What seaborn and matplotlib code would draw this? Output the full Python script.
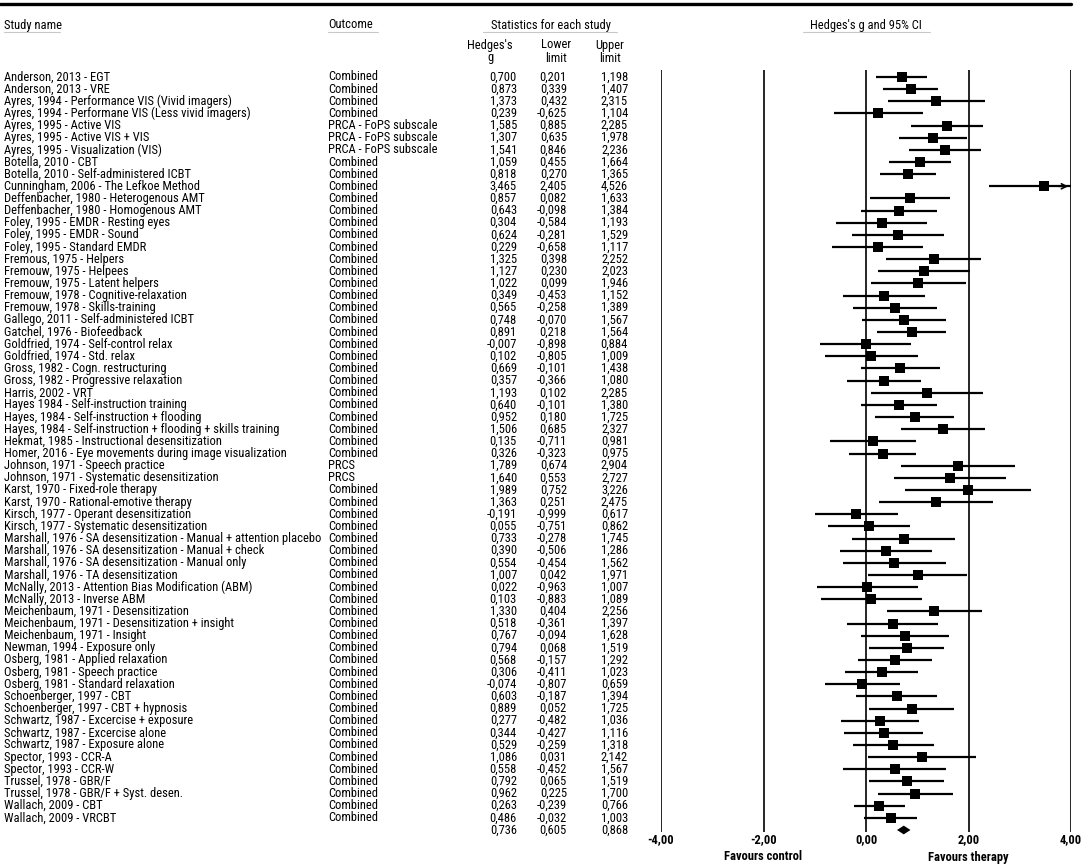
import seaborn as sns
import matplotlib.pyplot as plt
import matplotlib.transforms as mtransforms
from matplotlib import font_manager
from matplotlib.lines import Line2D
import pandas as pd

studies = [
    "Anderson, 2013 - EGT",
    "Anderson, 2013 - VRE",
    "Ayres, 1994 - Performance VIS (Vivid imagers)",
    "Ayres, 1994 - Performane VIS (Less vivid imagers)",
    "Ayres, 1995 - Active VIS",
    "Ayres, 1995 - Active VIS + VIS",
    "Ayres, 1995 - Visualization (VIS)",
    "Botella, 2010 - CBT",
    "Botella, 2010 - Self-administered ICBT",
    "Cunningham, 2006 - The Lefkoe Method",
    "Deffenbacher, 1980 - Heterogenous AMT",
    "Deffenbacher, 1980 - Homogenous AMT",
    "Foley, 1995 - EMDR - Resting eyes",
    "Foley, 1995 - EMDR - Sound",
    "Foley, 1995 - Standard EMDR",
    "Fremous, 1975 - Helpers",
    "Fremouw, 1975 - Helpees",
    "Fremouw, 1975 - Latent helpers",
    "Fremouw, 1978 - Cognitive-relaxation",
    "Fremouw, 1978 - Skills-training",
    "Gallego, 2011 - Self-administered ICBT",
    "Gatchel, 1976 - Biofeedback",
    "Goldfried, 1974 - Self-control relax",
    "Goldfried, 1974 - Std. relax",
    "Gross, 1982 - Cogn. restructuring",
    "Gross, 1982 - Progressive relaxation",
    "Harris, 2002 - VRT",
    "Hayes 1984 - Self-instruction training",
    "Hayes, 1984 - Self-instruction + flooding",
    "Hayes, 1984 - Self-instruction + flooding + skills training",
    "Hekmat, 1985 - Instructional desensitization",
    "Homer, 2016 - Eye movements during image visualization",
    "Johnson, 1971 - Speech practice",
    "Johnson, 1971 - Systematic desensitization",
    "Karst, 1970 - Fixed-role therapy",
    "Karst, 1970 - Rational-emotive therapy",
    "Kirsch, 1977 - Operant desensitization",
    "Kirsch, 1977 - Systematic desensitization",
    "Marshall, 1976 - SA desensitization - Manual + attention placebo",
    "Marshall, 1976 - SA desensitization - Manual + check",
    "Marshall, 1976 - SA desensitization - Manual only",
    "Marshall, 1976 - TA desensitization",
    "McNally, 2013 - Attention Bias Modification (ABM)",
    "McNally, 2013 - Inverse ABM",
    "Meichenbaum, 1971 - Desensitization",
    "Meichenbaum, 1971 - Desensitization + insight",
    "Meichenbaum, 1971 - Insight",
    "Newman, 1994 - Exposure only",
    "Osberg, 1981 - Applied relaxation",
    "Osberg, 1981 - Speech practice",
    "Osberg, 1981 - Standard relaxation",
    "Schoenberger, 1997 - CBT",
    "Schoenberger, 1997 - CBT + hypnosis",
    "Schwartz, 1987 - Excercise + exposure",
    "Schwartz, 1987 - Excercise alone",
    "Schwartz, 1987 - Exposure alone",
    "Spector, 1993 - CCR-A",
    "Spector, 1993 - CCR-W",
    "Trussel, 1978 - GBR/F",
    "Trussel, 1978 - GBR/F + Syst. desen.",
    "Wallach, 2009 - CBT",
    "Wallach, 2009 - VRCBT",
]

outcomes = (["Combined"] * 4 + ["PRCA - FoPS subscale"] * 3 + ["Combined"] * 25
            + ["PRCS"] * 2 + ["Combined"] * 28)

hedges_g = [0.700, 0.873, 1.373, 0.239, 1.585, 1.307, 1.541, 1.059, 0.818, 3.465,
            0.857, 0.643, 0.304, 0.624, 0.229, 1.325, 1.127, 1.022, 0.349, 0.565,
            0.748, 0.891, -0.007, 0.102, 0.669, 0.357, 1.193, 0.640, 0.952, 1.506,
            0.135, 0.326, 1.789, 1.640, 1.989, 1.363, -0.191, 0.055, 0.733, 0.390,
            0.554, 1.007, 0.022, 0.103, 1.330, 0.518, 0.767, 0.794, 0.568, 0.306,
            -0.074, 0.603, 0.889, 0.277, 0.344, 0.529, 1.086, 0.558, 0.792, 0.962,
            0.263, 0.486]

lower_limit = [0.201, 0.339, 0.432, -0.625, 0.885, 0.635, 0.846, 0.455, 0.270, 2.405,
               0.082, -0.098, -0.584, -0.281, -0.658, 0.398, 0.230, 0.099, -0.453, -0.258,
               -0.070, 0.218, -0.898, -0.805, -0.101, -0.366, 0.102, -0.101, 0.180, 0.685,
               -0.711, -0.323, 0.674, 0.553, 0.752, 0.251, -0.999, -0.751, -0.278, -0.506,
               -0.454, 0.042, -0.963, -0.883, 0.404, -0.361, -0.094, 0.068, -0.157, -0.411,
               -0.807, -0.187, 0.052, -0.482, -0.427, -0.259, 0.031, -0.452, 0.065, 0.225,
               -0.239, -0.032]

upper_limit = [1.198, 1.407, 2.315, 1.104, 2.285, 1.978, 2.236, 1.664, 1.365, 4.526,
               1.633, 1.384, 1.193, 1.529, 1.117, 2.252, 2.023, 1.946, 1.152, 1.389,
               1.567, 1.564, 0.884, 1.009, 1.438, 1.080, 2.285, 1.380, 1.725, 2.327,
               0.981, 0.975, 2.904, 2.727, 3.226, 2.475, 0.617, 0.862, 1.745, 1.286,
               1.562, 1.971, 1.007, 1.089, 2.256, 1.397, 1.628, 1.519, 1.292, 1.023,
               0.659, 1.394, 1.725, 1.036, 1.116, 1.318, 2.142, 1.567, 1.519, 1.700,
               0.766, 1.003]

summary_g, summary_lower, summary_upper = 0.736, 0.605, 0.868

x_ticks = [-4, -2, 0, 2, 4]
x_tick_labels = ["-4,00", "-2,00", "0,00", "2,00", "4,00"]


def fmt(v):
    return f"{v:.3f}".replace(".", ",")


def pick_font():
    # the original uses a narrow Arial-like face; take the narrowest available
    fonts = font_manager.fontManager.ttflist
    names = {f.name for f in fonts}
    for name in ["Liberation Sans Narrow", "Arial Narrow", "Roboto Condensed"]:
        if name in names:
            return name, "normal"
    if any(f.name == "DejaVu Sans" and f.stretch == "condensed" for f in fonts):
        return "DejaVu Sans", "condensed"
    return "Liberation Sans", "normal"


def main():
    sns.set_style("white")
    fam, stretch = pick_font()
    plt.rcParams["font.family"] = [fam, "DejaVu Sans"]
    plt.rcParams["font.stretch"] = stretch
    plt.rcParams["text.color"] = "black"
    plt.rcParams["xtick.color"] = "black"
    W, H = 1084, 865
    fig = plt.figure(figsize=(W / 100, H / 100), dpi=100)

    # size the font so the longest study name is ~314 px wide, as in the original
    probe = fig.text(0, 0, studies[38], fontsize=10)
    wpx = probe.get_window_extent(renderer=fig.canvas.get_renderer()).width
    probe.remove()
    fs = min(9.4, 10 * 316 / wpx)

    df = pd.DataFrame({"study": studies, "outcome": outcomes, "g": hedges_g,
                       "lo": lower_limit, "hi": upper_limit})
    df["row"] = range(len(df))
    n = len(df)

    # forest panel: x from -4 (661px) to 4 (1071px)
    x0, x1 = 661 / W, 1071 / W
    top_px, bot_px = 70, 832
    ax = fig.add_axes([x0, 1 - bot_px / H, x1 - x0, (bot_px - top_px) / H])
    pitch = (830 - 77) / n
    ax.set_xlim(-4, 4)
    ax.set_ylim((bot_px - 77) / pitch, (top_px - 77) / pitch)

    for xv in x_ticks:
        ax.axvline(xv, color="black", lw=1.2, zorder=1)

    hi_clip = df["hi"].clip(upper=4)
    ax.hlines(df["row"], df["lo"], hi_clip, color="black", lw=1.6, zorder=2)
    for _, r in df[df["hi"] > 4].iterrows():
        ax.annotate("", xy=(4, r["row"]), xytext=(3.7, r["row"]),
                    arrowprops=dict(arrowstyle="->", color="black", lw=1.2,
                                    mutation_scale=9), zorder=3)
    sns.scatterplot(data=df, x="g", y="row", marker="s", s=50, color="black",
                    edgecolor="black", linewidth=0, ax=ax, zorder=4, legend=False)

    # summary diamond
    sy = n
    ax.fill([summary_lower, summary_g, summary_upper, summary_g],
            [sy, sy - 0.36, sy, sy + 0.36], color="black", lw=0, zorder=4,
            clip_on=False)

    for s in ax.spines.values():
        s.set_visible(False)
    ax.set_xticks(x_ticks)
    ax.set_xticklabels(x_tick_labels, fontsize=fs, fontweight="bold")
    ax.tick_params(axis="x", length=0, pad=1)
    ax.set_yticks([])
    ax.set_xlabel("")
    ax.set_ylabel("")
    ax.grid(False)
    ax.patch.set_alpha(0)

    tr_axx = mtransforms.blended_transform_factory(ax.transData, fig.transFigure)
    ax.text(-2, 1 - 857 / H, "Favours control", transform=tr_axx, ha="center",
            va="center", fontsize=fs, fontweight="bold")
    ax.text(2, 1 - 857 / H, "Favours therapy", transform=tr_axx, ha="center",
            va="center", fontsize=fs, fontweight="bold")

    # table columns
    tr = mtransforms.blended_transform_factory(fig.transFigure, ax.transData)
    for _, r in df.iterrows():
        y = r["row"]
        fig.text(4 / W, y, r["study"], transform=tr, ha="left", va="center", fontsize=fs)
        fig.text(328 / W, y, r["outcome"], transform=tr, ha="left", va="center", fontsize=fs)
        fig.text(517 / W, y, fmt(r["g"]), transform=tr, ha="right", va="center", fontsize=fs)
        fig.text(567 / W, y, fmt(r["lo"]), transform=tr, ha="right", va="center", fontsize=fs)
        fig.text(628 / W, y, fmt(r["hi"]), transform=tr, ha="right", va="center", fontsize=fs)
    fig.text(517 / W, n, fmt(summary_g), transform=tr, ha="right", va="center", fontsize=fs)
    fig.text(567 / W, n, fmt(summary_lower), transform=tr, ha="right", va="center", fontsize=fs)
    fig.text(628 / W, n, fmt(summary_upper), transform=tr, ha="right", va="center", fontsize=fs)

    # headers
    def fy(px):
        return 1 - px / H

    fig.add_artist(Line2D([0, 1071 / W], [fy(4), fy(4)], color="black", lw=2.4))
    hdr = dict(va="center", fontsize=fs)
    fig.text(4 / W, fy(25), "Study name", ha="left", **hdr)
    fig.text(328 / W, fy(25), "Outcome", ha="left", **hdr)
    fig.text(551 / W, fy(25), "Statistics for each study", ha="center", **hdr)
    fig.text(866 / W, fy(25), "Hedges's g and 95% CI", ha="center", **hdr)
    for a, b in [(4, 60), (328, 378), (483, 617), (803, 930)]:
        fig.add_artist(Line2D([a / W, b / W], [fy(32), fy(32)], color="#c8c8c8", lw=0.8))
    for cx, l1, l2 in [(490, "Hedges's", "g"), (556, "Lower", "limit"), (610, "Upper", "limit")]:
        fig.text(cx / W, fy(45), l1, ha="center", **hdr)
        fig.text(cx / W, fy(58), l2, ha="center", **hdr)

    plt.savefig("out.png", dpi=100)


if __name__ == "__main__":
    main()
